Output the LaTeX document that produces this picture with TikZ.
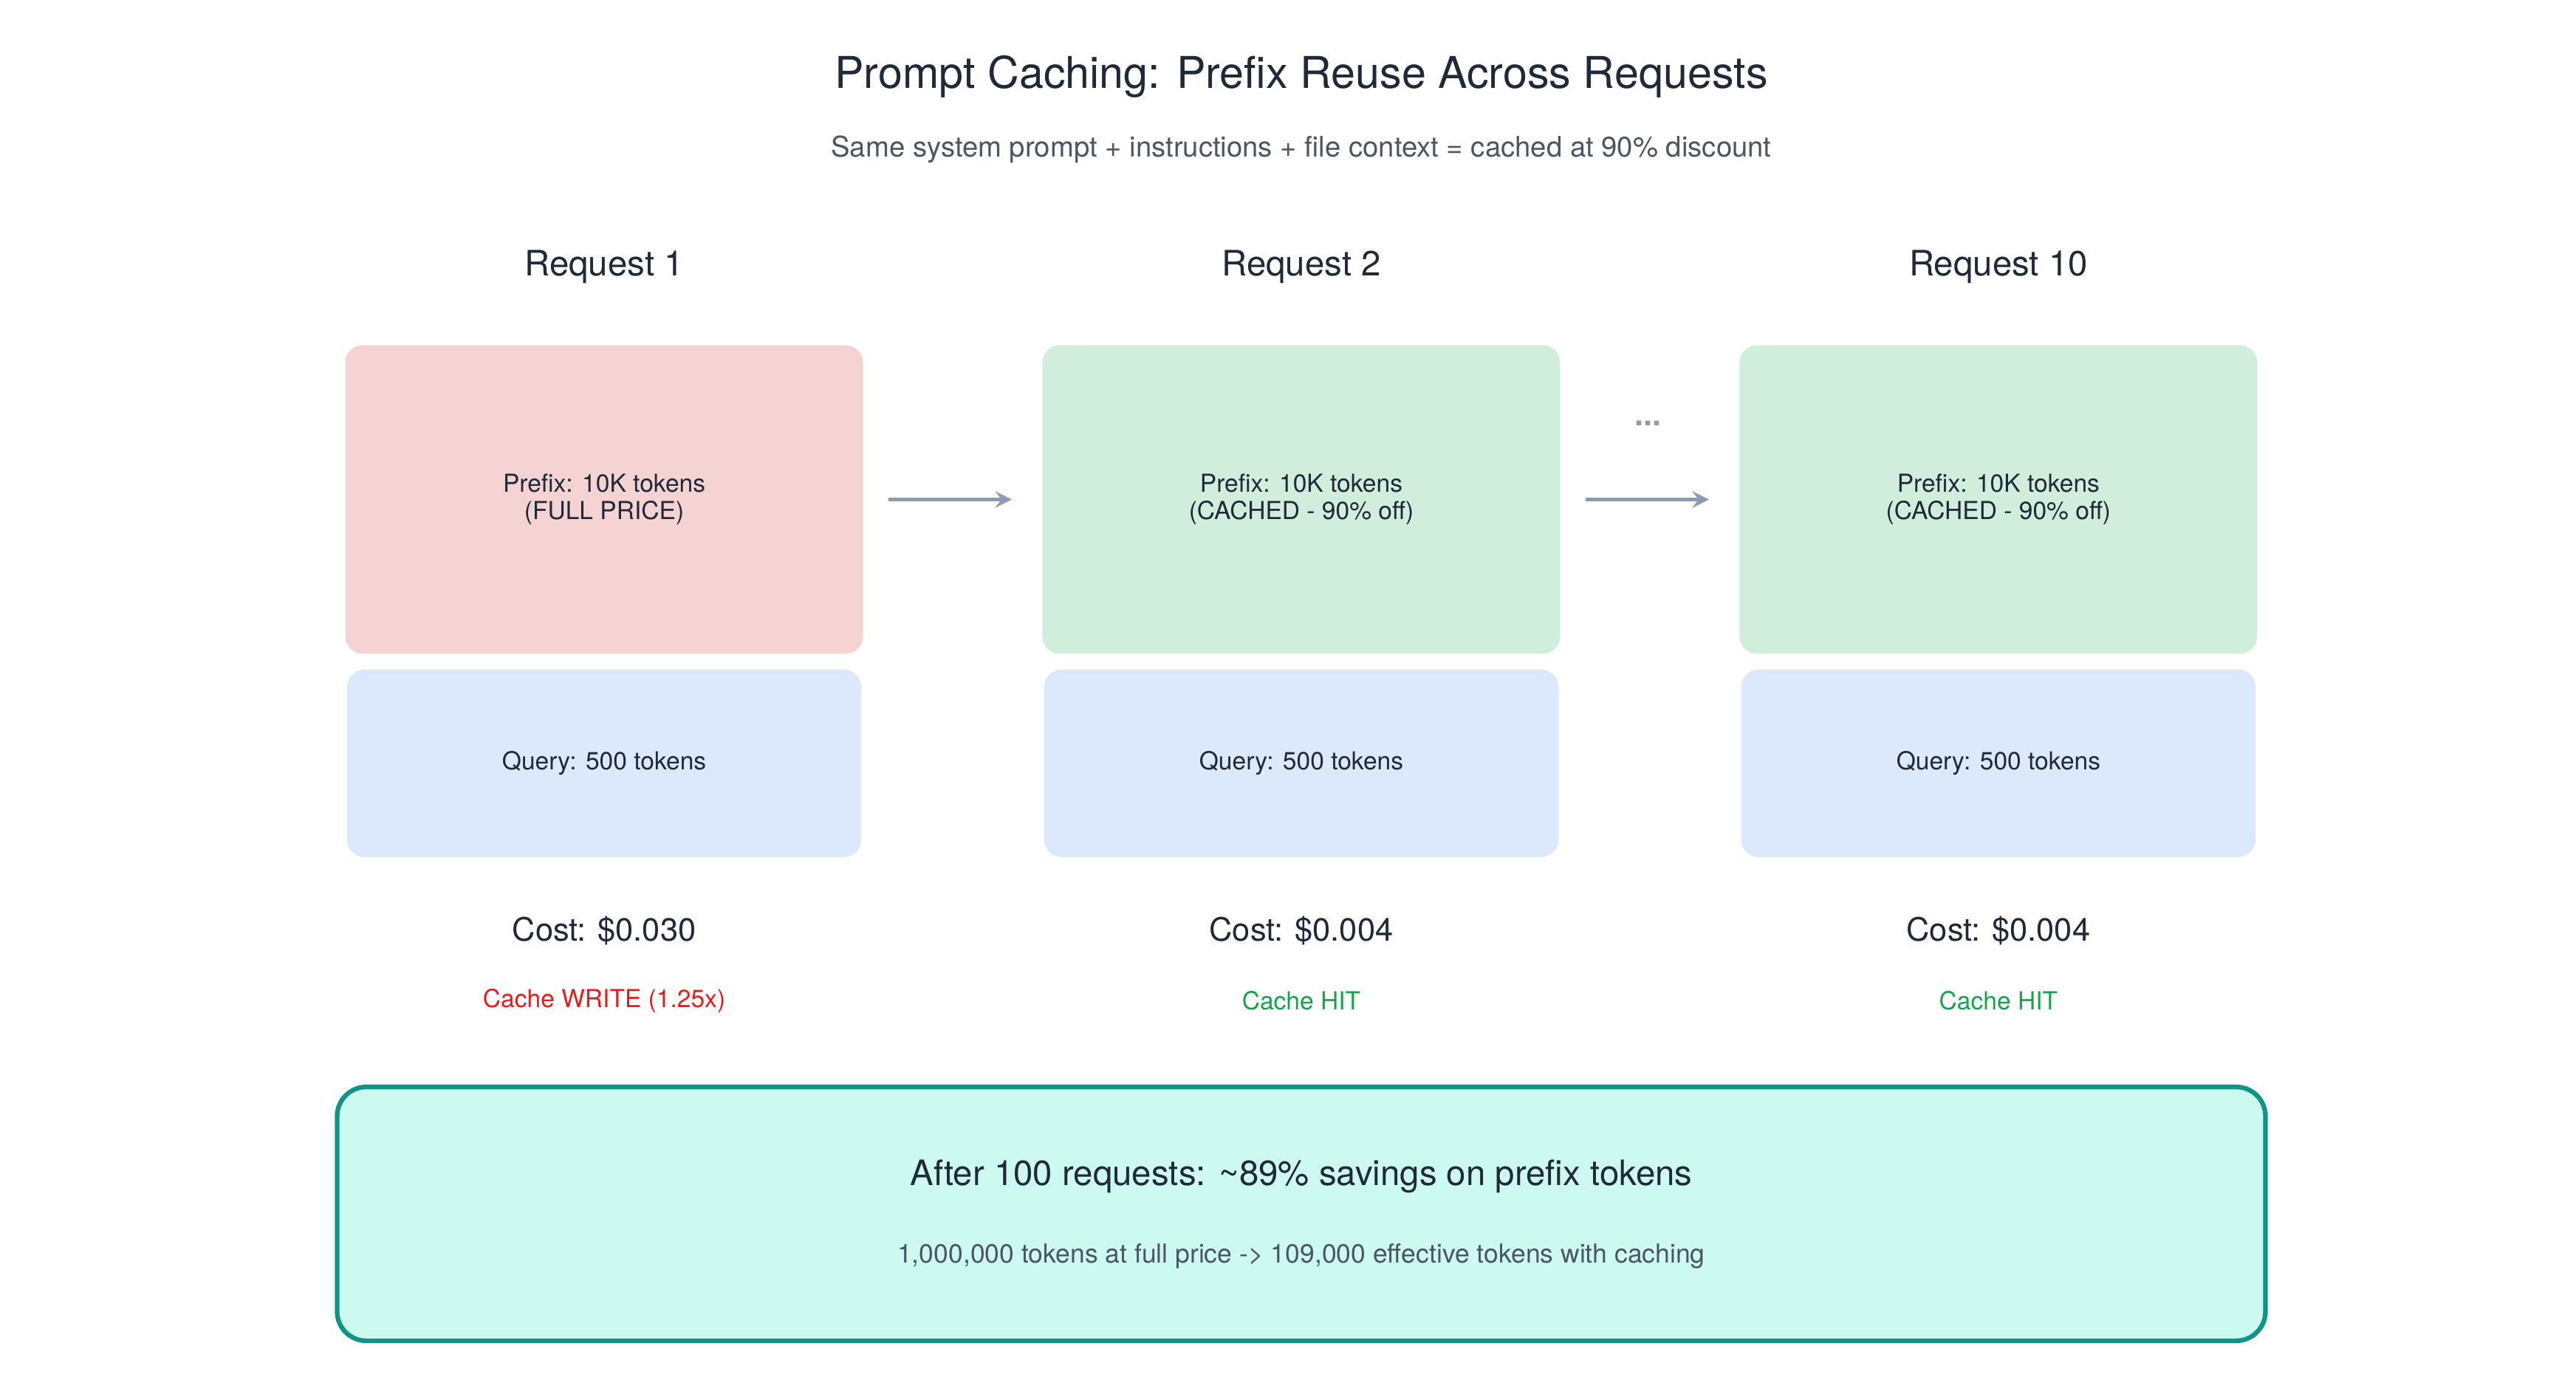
\documentclass[tikz,border=0pt]{standalone}
\usepackage{fontspec}
\setmainfont{TeX Gyre Heros}
\usetikzlibrary{positioning}
\definecolor{ink}{HTML}{1F2937}
\definecolor{subink}{HTML}{4B5563}
\definecolor{fullpink}{HTML}{F6D3D3}
\definecolor{hitgreen}{HTML}{D1EDDB}
\definecolor{queryblue}{HTML}{DCE8FB}
\definecolor{arrowgray}{HTML}{8E9AB0}
\definecolor{writered}{HTML}{E11D1D}
\definecolor{okgreen}{HTML}{16A34A}
\definecolor{tealline}{HTML}{0F9488}
\definecolor{mint}{HTML}{CCFAF0}
\begin{document}
\begin{tikzpicture}[x=0.02cm, y=-0.02cm, >=stealth,
    block/.style={rounded corners=6pt, minimum width=6.24cm, align=center, text=ink, font=\fontsize{8.5}{9.5}\selectfont},
    prefixbox/.style={block, minimum height=3.72cm},
    querybox/.style={block, fill=queryblue, minimum width=6.2cm, minimum height=2.26cm},
    head/.style={text=ink, font=\fontsize{12}{14}\selectfont},
    cost/.style={text=ink, font=\fontsize{11}{13}\selectfont},
    tag/.style={font=\fontsize{8.5}{10}\selectfont},
    flow/.style={->, draw=arrowgray, line width=1.5pt, shorten <=0.3cm, shorten >=0.36cm}]
    \useasboundingbox (0,0) rectangle (1552,840);
    % Title
    \node[text=ink, font=\fontsize{15}{18}\selectfont] (title) at (784,46) {Prompt Caching: Prefix Reuse Across Requests};
    \node[text=subink, font=\fontsize{9.7}{12}\selectfont] (subtitle) at (784,90) {Same system prompt + instructions + file context = cached at 90\% discount};

    % Request 1
    \node[head] (h1) at (364,161) {Request 1};
    \node[prefixbox, fill=fullpink] (p1) at (364,301) {Prefix: 10K tokens\\(FULL PRICE)};
    \node[querybox] (q1) at (364,460) {Query: 500 tokens};
    \node[cost] (c1) at (364,561) {Cost: \$0.030};
    \node[tag, text=writered] (t1) at (364,603) {Cache WRITE (1.25x)};

    % Request 2
    \node[head] (h2) at (784,161) {Request 2};
    \node[prefixbox, fill=hitgreen] (p2) at (784,301) {Prefix: 10K tokens\\(CACHED - 90\% off)};
    \node[querybox] (q2) at (784,460) {Query: 500 tokens};
    \node[cost] (c2) at (784,561) {Cost: \$0.004};
    \node[tag, text=okgreen] (t2) at (784,603) {Cache HIT};

    % Request 10
    \node[head] (h3) at (1204,161) {Request 10};
    \node[prefixbox, fill=hitgreen] (p3) at (1204,301) {Prefix: 10K tokens\\(CACHED - 90\% off)};
    \node[querybox] (q3) at (1204,460) {Query: 500 tokens};
    \node[cost] (c3) at (1204,561) {Cost: \$0.004};
    \node[tag, text=okgreen] (t3) at (1204,603) {Cache HIT};

    % Arrows
    \draw[flow] (p1) -- (p2);
    \draw[flow] (p2) -- (p3);
    \node[text=arrowgray, font=\bfseries\fontsize{11}{12}\selectfont] (dots) at (993,255) {...};

    % Summary
    \node[draw=tealline, line width=1.6pt, fill=mint, rounded corners=10pt, minimum width=23.24cm, minimum height=3.06cm] (sum) at (784,731.5) {};
    \node[text=ink, font=\fontsize{12}{14}\selectfont] (sumhead) at (784,709) {After 100 requests: \textasciitilde89\% savings on prefix tokens};
    \node[text=subink, font=\fontsize{9}{11}\selectfont] (sumtext) at (784,757) {1,000,000 tokens at full price -> 109,000 effective tokens with caching};
\end{tikzpicture}
\end{document}
